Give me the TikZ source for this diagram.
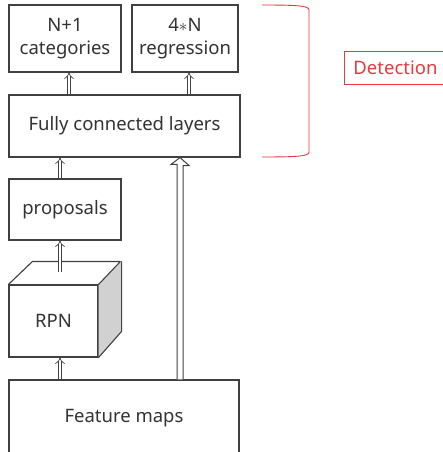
\documentclass[tikz,border=0pt]{standalone}
\usepackage{fontspec}
\setmainfont{Noto Sans}
\usepackage{tikz}
\usetikzlibrary{arrows.meta}

\definecolor{linegray}{HTML}{404040}
\definecolor{textgray}{HTML}{333333}
\definecolor{detred}{HTML}{E53A40}

\begin{document}
\begin{tikzpicture}[x=1pt, y=-1pt,
      every node/.append style={text=textgray, font=\fontsize{18.5}{23}\selectfont, align=center},
      box/.style={draw=linegray, line width=1.1pt, inner sep=0pt},
      dblarrow/.style={draw=linegray, line width=0.7pt, double=white, double distance=2.6pt, -{Implies}},
      hollowarrow/.style={draw=linegray, line width=1pt, fill=white, line join=miter}]
    \clip (0,0) rectangle (443,452);
    \fill[white] (0,0) rectangle (443,452);
    % detection head
    \node (cls) [box, minimum width=112pt, minimum height=67pt] at (65,38.5) {N+1\\categories};
    \node (reg) [box, minimum width=106pt, minimum height=67pt] at (185,38.5) {4$\ast$N\\regression};
    \node (fc) [box, minimum width=231pt, minimum height=62pt] at (124.5,126) {Fully connected layers};
    % region proposals
    \node (prop) [box, minimum width=112pt, minimum height=61pt] at (65,209.5) {proposals};
    \node (rpn) [box, minimum width=89pt, minimum height=72pt] at (53.5,321) {RPN};
    \fill[black!18] (rpn.north east) -- ++(23,-23) -- ++(0,70) -- (rpn.south east) -- cycle;
    \draw[linegray, line width=1.1pt, line join=bevel] (rpn.north west) -- ++(24,-23) -- ++(88,0) -- (rpn.north east)
      (rpn.north east) ++(23,-23) -- ++(0,70) -- (rpn.south east);
    \node (feat) [box, minimum width=230pt, minimum height=100pt] at (124,430) {};
    \node (featlabel) at (124,418) {Feature maps};
    % arrows between the stages
    \draw[dblarrow] (fc.north -| 69,0) -- (cls.south -| 69,0);
    \draw[dblarrow] (fc.north -| 189,0) -- (reg.south -| 189,0);
    \draw[dblarrow] (prop.north -| 60,0) -- (fc.south -| 60,0);
    \coordinate (rpntop) at (60,272);
    \draw[dblarrow] (rpntop) -- (prop.south -| 60,0);
    \draw[dblarrow] (feat.north -| 60,0) -- (rpn.south -| 60,0);
    % wide arrow from the feature maps straight to the fc layers
    \coordinate (tip) at (fc.south -| 180,0);
    \draw[hollowarrow] (feat.north -| 177,0) -- ++(0,-215) -- ++(-6,0) -- (tip) -- ++(9,8) -- ++(-6,0) -- (feat.north -| 183,0);
    % bracket and label
    \draw[detred, line width=0.9pt] (262,5) .. controls (300,5) and (309,6) .. (309,10) -- (309,152)
      .. controls (309,156) and (300,157) .. (262,157);
    \node (det) [draw=detred, line width=0.9pt, text=detred, inner xsep=9pt, minimum height=33pt, anchor=west] at (344,67.5) {Detection};
\end{tikzpicture}
\end{document}
